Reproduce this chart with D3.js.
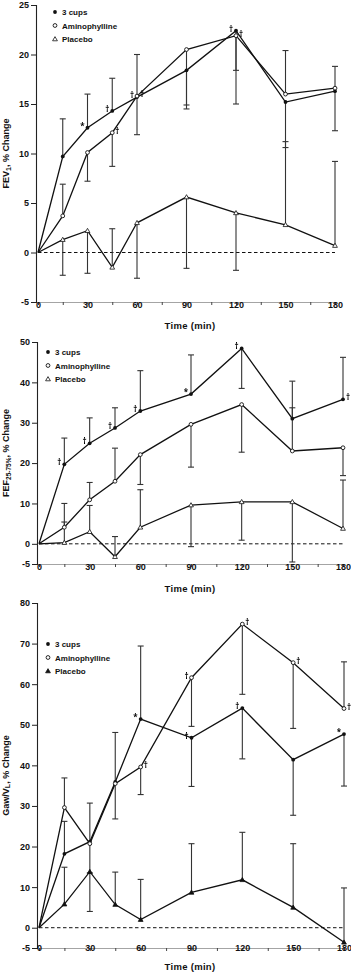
<!DOCTYPE html>
<html>
<head>
<meta charset="utf-8">
<script src="https://cdn.jsdelivr.net/npm/d3@7"></script>
<style>
  body { margin: 0; background: #fff; }
  svg { display: block; font-family: "Liberation Sans", Arial, sans-serif; font-weight: bold; }
  .tick text { font-size: 9px; }
  .sig { filter: grayscale(1); }
</style>
</head>
<body>
<div id="graf"></div>
<script>
const times = [0, 15, 30, 45, 60, 90, 120, 150, 180]
const groups = ["3 cups", "Aminophylline", "Placebo"]

// FEV1 (% change) + end of each error bar
const fevCups = [0, 9.7, 12.6, 14.3, 15.7, 18.4, 22.4, 15.2, 16.3]
const fevCupsBar = [null, 13.5, 16.0, 17.6, 20.0, 14.5, 18.4, 10.6, 12.3]
const fevAmino = [0, 3.7, 10.1, 12.1, 15.8, 20.5, 21.9, 16.0, 16.6]
const fevAminoBar = [null, 6.9, 7.2, 8.7, 11.9, 14.9, 15.0, 20.4, 18.8]
const fevPlacebo = [0, 1.3, 2.2, -1.5, 3.0, 5.6, 4.0, 2.8, 0.7]
const fevPlaceboBar = [null, -2.3, -2.1, 2.4, -2.6, -1.6, -1.8, 11.2, 9.2]
const fevTicks = [-5, 0, 5, 10, 15, 20, 25]

// FEF25-75%
const fefCups = [0, 19.7, 24.9, 28.7, 32.9, 37.1, 48.4, 31.0, 35.8]
const fefCupsBar = [null, 26.2, 31.2, 33.7, 42.9, 46.8, 38.5, 40.3, 46.2]
const fefAmino = [0, 4.1, 10.9, 15.5, 22.1, 29.6, 34.5, 23.0, 23.8]
const fefAminoBar = [null, 10.0, 15.2, 23.7, 14.7, 19.0, 22.7, 33.7, 16.9]
const fefPlacebo = [0, 0.3, 3.0, -3.2, 4.1, 9.6, 10.4, 10.4, 3.8]
const fefPlaceboBar = [null, 5.4, 9.5, 1.8, 13.4, -0.7, 0.9, -4.5, 15.8]
const fefTicks = [-5, 0, 10, 20, 30, 40, 50]

// Gaw/VL
const gawCups = [0, 18.2, 21.2, 35.9, 51.4, 46.8, 54.1, 41.4, 47.7]
const gawCupsBar = [null, 26.2, 30.7, 48.1, 69.4, 34.8, 41.6, 27.7, 34.9]
const gawAmino = [0, 29.6, 20.7, 35.5, 39.6, 61.6, 74.8, 65.3, 54.0]
const gawAminoBar = [null, 36.9, 13.5, 26.8, 32.8, 49.6, 57.5, 49.1, 65.5]
const gawPlacebo = [0, 5.8, 13.8, 5.7, 2.0, 8.7, 11.8, 5.0, -3.6]
const gawPlaceboBar = [null, 14.9, 4.0, 13.7, 11.9, 20.7, 23.5, 20.7, 9.8]
const gawTicks = [-5, 0, 10, 20, 30, 40, 50, 60, 70, 80]

// significance marks: [group index, time, symbol, side]
const fevMarks = [[0, 30, "*", "l"], [0, 45, "†", "l"], [0, 60, "†", "l"], [1, 60, "†", "r"],
  [1, 45, "†", "r"], [0, 120, "†", "l"], [1, 120, "†", "r"]]
const fefMarks = [[0, 15, "†", "l"], [0, 30, "†", "l"], [0, 45, "†", "l"], [0, 60, "†", "l"],
  [0, 90, "*", "l"], [0, 120, "†", "l"], [0, 180, "†", "r"]]
const gawMarks = [[0, 60, "*", "l"], [0, 90, "†", "l"], [0, 120, "†", "l"], [0, 180, "*", "l"],
  [1, 60, "†", "r"], [1, 90, "†", "l"], [1, 120, "†", "r"], [1, 150, "†", "r"], [1, 180, "†", "r"]]

const panels = [
  { series: [fevCups, fevAmino, fevPlacebo], bars: [fevCupsBar, fevAminoBar, fevPlaceboBar],
    ticks: fevTicks, marks: fevMarks, x0: 38, x1: 335, yTop: 5, yBot: 302, label: "fev",
    legendX: 55, legendY: 12, triFill: false, xLab: 315, tLab: 329 },
  { series: [fefCups, fefAmino, fefPlacebo], bars: [fefCupsBar, fefAminoBar, fefPlaceboBar],
    ticks: fefTicks, marks: fefMarks, x0: 39, x1: 343, yTop: 342, yBot: 564, label: "fef",
    legendX: 48, legendY: 352, triFill: false, xLab: 577, tLab: 592 },
  { series: [gawCups, gawAmino, gawPlacebo], bars: [gawCupsBar, gawAminoBar, gawPlaceboBar],
    ticks: gawTicks, marks: gawMarks, x0: 39, x1: 344, yTop: 603, yBot: 948, label: "gaw",
    legendX: 48, legendY: 644, triFill: true, xLab: 958, tLab: 970 }
]

const svg = d3.select("#graf").append("svg").attr("width", 351).attr("height", 973)

const drawMarker = (sel, k, x, y, triFill) => {
  if (k == 0) {
    sel.append("circle").attr("cx", x).attr("cy", y).attr("r", 1.9).attr("fill", "#111")
  } else if (k == 1) {
    sel.append("circle").attr("cx", x).attr("cy", y).attr("r", 1.9)
      .attr("fill", "#fff").attr("stroke", "#111").attr("stroke-width", 0.9)
  } else {
    sel.append("path").attr("d", d3.symbol(d3.symbolTriangle, 10)())
      .attr("transform", `translate(${x},${y + 0.4})`)
      .attr("fill", triFill ? "#111" : "#fff").attr("stroke", "#111").attr("stroke-width", 0.8)
  }
}

panels.forEach((p) => {
  const x = d3.scaleLinear().domain([0, 180]).range([p.x0, p.x1])
  const yMax = d3.max(p.ticks)
  const y = d3.scaleLinear().domain([-5, yMax]).range([p.yBot, p.yTop])
  const g = svg.append("g")

  // y axis
  const yAxis = d3.axisLeft(y).tickValues(p.ticks).tickSize(5).tickPadding(2)
    .tickFormat((d) => String(d))
  g.append("g").attr("transform", `translate(${p.x0 - 2},0)`).call(yAxis)
    .call((a) => a.select(".domain").attr("stroke", "#222").attr("stroke-width", 1.1))
    .call((a) => a.selectAll(".tick line").attr("stroke", "#222"))
    .call((a) => a.selectAll(".tick text").attr("fill", "#111"))

  // x axis
  const xAxis = d3.axisBottom(x).tickValues(d3.range(0, 181, 15)).tickSize(3)
    .tickFormat((d) => (d % 30 == 0 ? d : ""))
  g.append("g").attr("transform", `translate(0,${p.yBot})`).call(xAxis)
    .call((a) => a.select(".domain").attr("stroke", "#666").attr("stroke-width", 0.6))
    .call((a) => a.selectAll(".tick line").attr("stroke", "#444"))
    .call((a) => a.selectAll(".tick text").attr("fill", "#111").attr("y", p.xLab - p.yBot - 7).attr("dy", 0))

  // zero reference
  g.append("line").attr("x1", x(0)).attr("x2", x(180)).attr("y1", y(0)).attr("y2", y(0))
    .attr("stroke", "#111").attr("stroke-width", 1).attr("stroke-dasharray", "3.5,2.5")

  // error bars
  p.series.forEach((s, k) => {
    s.forEach((v, i) => {
      const e = p.bars[k][i]
      if (e == null) return
      const cx = x(times[i])
      g.append("line").attr("x1", cx).attr("x2", cx).attr("y1", y(v)).attr("y2", y(e))
        .attr("stroke", "#333").attr("stroke-width", 1.1)
      g.append("line").attr("x1", cx - 3).attr("x2", cx + 3).attr("y1", y(e)).attr("y2", y(e))
        .attr("stroke", "#333").attr("stroke-width", 1.1)
    })
  })

  // lines
  const line = d3.line().x((d, i) => x(times[i])).y((d) => y(d))
  p.series.forEach((s) => {
    g.append("path").attr("d", line(s)).attr("fill", "none")
      .attr("stroke", "#111").attr("stroke-width", 1.3)
  })

  // markers
  p.series.forEach((s, k) => {
    s.forEach((v, i) => {
      if (i == 0) return
      drawMarker(g, k, x(times[i]), y(v), p.triFill)
    })
  })

  // significance marks
  p.marks.forEach(([k, t, sym, side]) => {
    const i = times.indexOf(t)
    g.append("text").attr("class", "sig")
      .attr("x", x(t) + (side == "l" ? -3 : 3)).attr("y", y(p.series[k][i]) + 1)
      .attr("text-anchor", side == "l" ? "end" : "start")
      .attr("font-family", "'Noto Sans', sans-serif").attr("font-size", 8)
      .attr("fill", "#000").text(sym)
  })

  // legend
  groups.forEach((name, k) => {
    const ly = p.legendY + k * 13.5
    drawMarker(g, k, p.legendX, ly, p.triFill || k != 2)
    g.append("text").attr("x", p.legendX + 7).attr("y", ly + 3).attr("font-size", 8)
      .attr("fill", "#111").text(name)
  })

  // axis titles
  g.append("text").attr("x", 190).attr("y", p.tLab).attr("text-anchor", "middle")
    .attr("font-size", 9.5).attr("fill", "#111").attr("letter-spacing", 0.3).text("Time  (min)")

  const yl = g.append("text").attr("transform", `translate(9,${(p.yTop + p.yBot) / 2}) rotate(-90)`)
    .attr("text-anchor", "middle").attr("font-size", 9).attr("fill", "#111")
  if (p.label == "fev") {
    yl.append("tspan").text("FEV")
    yl.append("tspan").attr("font-size", 7).attr("dy", 2).text("1")
    yl.append("tspan").attr("dy", -2).text(", % Change")
  } else if (p.label == "fef") {
    yl.append("tspan").text("FEF")
    yl.append("tspan").attr("font-size", 6.5).attr("dy", 2).text("25-75%")
    yl.append("tspan").attr("dy", -2).text(", % Change")
  } else {
    yl.append("tspan").text("Gaw/V")
    yl.append("tspan").attr("font-size", 7).attr("dy", 1).text("L")
    yl.append("tspan").attr("dy", -1).text(", % Change")
  }
})
</script>
</body>
</html>
